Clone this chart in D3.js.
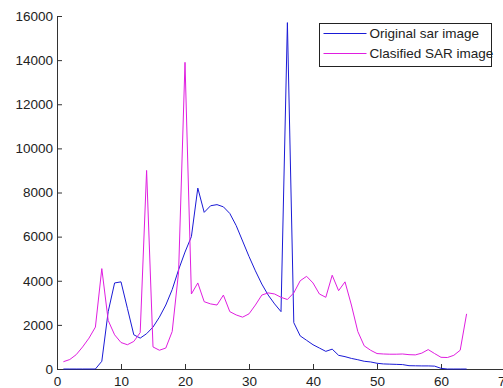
<!DOCTYPE html>
<html>
<head>
<meta charset="utf-8">
<script src="https://cdn.jsdelivr.net/npm/d3@7"></script>
<style>
  body { margin: 0; background: #fff; }
  svg { display: block; }
  text { font-family: "Liberation Sans", Arial, sans-serif; fill: #222; }
</style>
</head>
<body>
<svg width="503" height="388"></svg>
<script>
// chart size
const width = 503;
const height = 388;

// x positions (bins) and the two series
const bins = d3.range(1, 65);
const original = [
  0, 0, 0, 0, 0, 0, 350, 2600, 3900, 3950,
  2750, 1550, 1400, 1600, 1900, 2350, 2900, 3600, 4500, 5300,
  6000, 8200, 7100, 7400, 7450, 7350, 7050, 6500, 5800, 5100,
  4450, 3850, 3350, 2950, 2600, 15700, 2100, 1500, 1300, 1100,
  950, 800, 900, 620, 560, 480, 420, 350, 320, 260,
  230, 220, 210, 200, 150, 145, 140, 140, 130, 30,
  0, 0, 0, 0
];
const classified = [
  330, 430, 650, 1000, 1400, 1900, 4550, 2200, 1550, 1200,
  1100, 1250, 1650, 9000, 1000, 850, 950, 1700, 4400, 13900,
  3400, 3900, 3050, 2950, 2900, 3350, 2600, 2450, 2350, 2500,
  2900, 3350, 3450, 3400, 3250, 3150, 3450, 4000, 4200, 3900,
  3400, 3250, 4250, 3550, 3950, 2900, 1700, 1050, 850, 700,
  680, 670, 670, 680, 650, 640, 720, 880, 700, 530,
  520, 620, 850, 2500
];
const xTicks = [0, 10, 20, 30, 40, 50, 60, 70];
const yTicks = [0, 2000, 4000, 6000, 8000, 10000, 12000, 14000, 16000];
const seriesNames = ["Original sar image", "Clasified SAR image"];
const seriesColors = ["#1a1ad6", "#e01ee0"];

const svg = d3.select("svg");

// scales
const x = d3.scaleLinear().domain([0, 70]).range([57, 505]);
const y = d3.scaleLinear().domain([0, 16000]).range([369, 16]);

// axes, ticks pointing inward like matlab
const xAxis = d3.axisBottom(x).tickValues(xTicks).tickFormat(d3.format("d"))
  .tickSizeInner(-5).tickSizeOuter(0);
const yAxis = d3.axisLeft(y).tickValues(yTicks).tickFormat(d3.format("d"))
  .tickSizeInner(-5).tickSizeOuter(0).tickPadding(4);

const gx = svg.append("g").attr("transform", `translate(0,${y(0)})`).call(xAxis);
const gy = svg.append("g").attr("transform", `translate(${x(0)},0)`).call(yAxis);

[gx, gy].forEach(g => {
  g.select(".domain").attr("stroke", "#333");
  g.selectAll(".tick line").attr("stroke", "#333");
  g.selectAll(".tick text")
    .style("font-size", "13.5px")
    .style("fill", "#222");
});
// x labels sit right under the axis, baseline near the bottom edge
gx.selectAll(".tick text").attr("y", 16.5).attr("dy", null);

// lines
const line = d3.line()
  .x((d, i) => x(bins[i]))
  .y(d => y(d));

[original, classified].forEach((s, k) => {
  svg.append("path")
    .datum(s)
    .attr("fill", "none")
    .attr("stroke", seriesColors[k])
    .attr("stroke-width", 1)
    .attr("d", line);
});

// legend
const legend = svg.append("g").attr("transform", "translate(319.5,23.5)");
legend.append("rect")
  .attr("width", 172)
  .attr("height", 43)
  .attr("fill", "#fff")
  .attr("stroke", "#222");

seriesNames.forEach((name, k) => {
  const yy = 10 + k * 20;
  legend.append("line")
    .attr("x1", 4).attr("x2", 47)
    .attr("y1", yy).attr("y2", yy)
    .attr("stroke", seriesColors[k]);
  legend.append("text")
    .attr("x", 50)
    .attr("y", yy)
    .attr("dy", "0.35em")
    .style("font-size", "13.5px")
    .text(name);
});
</script>
</body>
</html>
